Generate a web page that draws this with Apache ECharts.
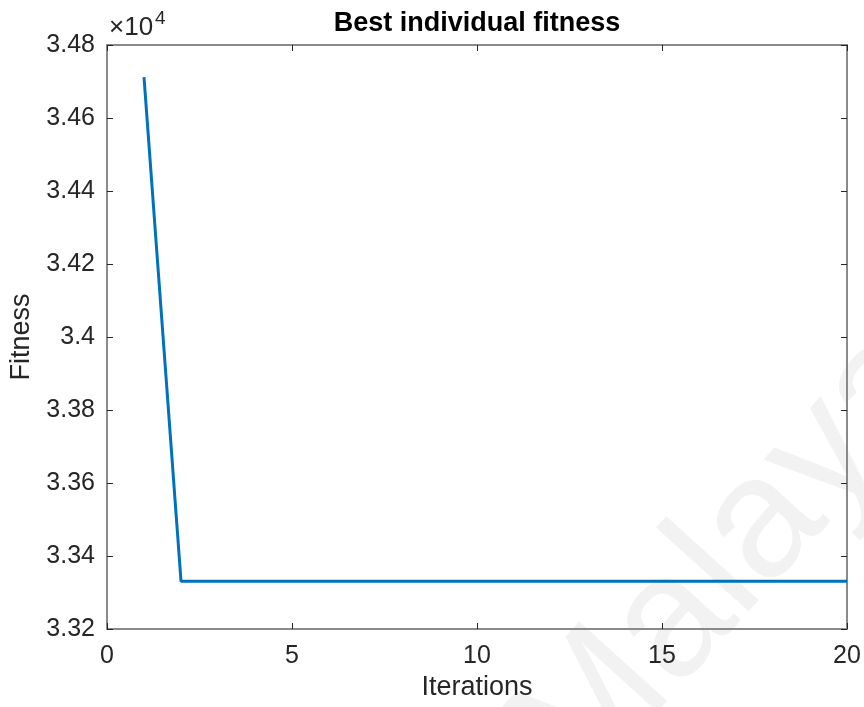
<!DOCTYPE html>
<html>
<head>
<meta charset="utf-8">
<script src="https://cdn.jsdelivr.net/npm/echarts@6/dist/echarts.min.js"></script>
<style>
html,body{margin:0;padding:0;background:#fff;}
#chart{width:864px;height:707px;}
</style>
</head>
<body>
<div id="chart"></div>
<script>
// ---- data ----
const iterations = [1,2,3,4,5,6,7,8,9,10,11,12,13,14,15,16,17,18,19,20];
const fitness = [34712,33331,33331,33331,33331,33331,33331,33331,33331,33331,33331,33331,33331,33331,33331,33331,33331,33331,33331,33331];
const xTicks = [0,5,10,15,20];
const yTickLabels = ['3.32','3.34','3.36','3.38','3.4','3.42','3.44','3.46','3.48'];
const titleText = 'Best individual fitness';
const xName = 'Iterations';
const yName = 'Fitness';
const watermark = 'Malaya';

const FONT = '"Liberation Sans", Arial, Helvetica, sans-serif';
const TXT = '#262626';
const AXIS = '#8a8a8a';

const chart = echarts.init(document.getElementById('chart'), null, {renderer:'canvas'});

const seriesData = iterations.map((it, i) => [it, fitness[i]]);

function yFmt(v){
  const idx = Math.round((v - 33200) / 200);
  return yTickLabels[idx] !== undefined ? yTickLabels[idx] : '';
}

const baseX = {
  type:'value', min:xTicks[0], max:xTicks[xTicks.length-1], interval:5,
  splitLine:{show:false},
  axisLine:{show:true, onZero:false, lineStyle:{color:AXIS, width:2}},
  axisTick:{show:true, inside:true, length:6, lineStyle:{color:TXT, width:1}}
};
const baseY = {
  type:'value', min:33200, max:34800, interval:200,
  splitLine:{show:false},
  axisLine:{show:true, onZero:false, lineStyle:{color:AXIS, width:2}},
  axisTick:{show:true, inside:true, length:6, lineStyle:{color:TXT, width:1}}
};

chart.setOption({
  animation:false,
  backgroundColor:'#ffffff',
  title:{
    text:titleText, left:477, top:10, textAlign:'center', padding:0,
    textStyle:{fontFamily:FONT, fontSize:27, fontWeight:'bold', color:'#000'}
  },
  grid:{left:107, right:17, top:45, bottom:78, containLabel:false},
  xAxis:[
    Object.assign({}, baseX, {
      position:'bottom',
      axisLabel:{show:true, margin:15, fontFamily:FONT, fontSize:25, color:TXT},
      name:xName, nameLocation:'middle', nameGap:43,
      nameTextStyle:{fontFamily:FONT, fontSize:27, color:TXT}
    }),
    Object.assign({}, baseX, {position:'top', axisLabel:{show:false}})
  ],
  yAxis:[
    Object.assign({}, baseY, {
      position:'left',
      axisLabel:{show:true, margin:12, fontFamily:FONT, fontSize:25, color:TXT, formatter:yFmt},
      name:yName, nameLocation:'middle', nameGap:70, nameRotate:90,
      nameTextStyle:{fontFamily:FONT, fontSize:27, color:TXT}
    }),
    Object.assign({}, baseY, {position:'right', axisLabel:{show:false}})
  ],
  graphic:[
    {
      type:'text', z:-10, x:545, y:765, rotation:47.8*Math.PI/180, silent:true,
      style:{text:watermark, fontFamily:FONT, fontSize:172, fill:'#f2f2f2', textAlign:'left', textVerticalAlign:'middle'}
    },
    {
      type:'text', x:109, y:15, silent:true,
      style:{text:'\u00d710', fontFamily:FONT, fontSize:26, fill:TXT, textAlign:'left', textVerticalAlign:'top'}
    },
    {
      type:'text', x:155, y:9, silent:true,
      style:{text:'4', fontFamily:FONT, fontSize:19, fill:TXT, textAlign:'left', textVerticalAlign:'top'}
    }
  ],
  series:[{
    type:'line', xAxisIndex:0, yAxisIndex:0, data:seriesData,
    showSymbol:false, symbol:'none', z:5,
    lineStyle:{color:'#0072BD', width:3},
    clip:false
  }]
});
</script>
</body>
</html>
